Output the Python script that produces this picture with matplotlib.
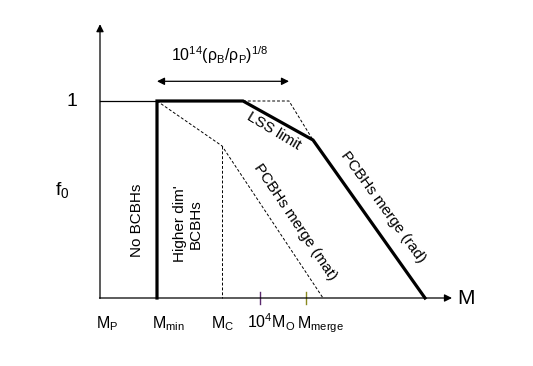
import matplotlib
matplotlib.use('Agg')
import matplotlib.pyplot as plt

plt.rcParams['font.family'] = ['Liberation Sans', 'DejaVu Sans']
plt.rcParams['mathtext.fontset'] = 'custom'
plt.rcParams['mathtext.rm'] = 'Liberation Sans'
plt.rcParams['mathtext.it'] = 'Liberation Sans'
plt.rcParams['mathtext.default'] = 'regular'

# schematic data (x: mass position, f: fraction f0)
tick_x = [107, 168, 223, 271, 320]
tick_labels = ['M$_P$', 'M$_{min}$', 'M$_C$', '10$^4$M$_O$', 'M$_{merge}$']

thick_x = [157, 157, 243, 313, 425]
thick_f = [0.0, 1.0, 1.0, 0.802, 0.0]
thin_x = [100, 157]
thin_f = [1.0, 1.0]
lss_dash_x = [243, 289, 313]
lss_dash_f = [1.0, 1.0, 0.802]
mat_dash_x = [157, 222, 323]
mat_dash_f = [1.0, 0.772, 0.0]
mc_x = [222, 222]
mc_f = [0.772, 0.0]
mark_x = [260, 306]
mark_colors = ['#5b2a6e', '#8a8a20']

fig = plt.figure(figsize=(5.33, 3.66), dpi=100)
ax = fig.add_axes([0, 0, 1, 1])
ax.set_xlim(0, 533)
ax.set_ylim(-68 / 197, 298 / 197)
ax.axis('off')

# axes arrows
ax.annotate('', xy=(452, 0), xytext=(99.5, 0),
            arrowprops=dict(arrowstyle='-|>', color='black', lw=0.9,
                            mutation_scale=11, shrinkA=0, shrinkB=0))
ax.annotate('', xy=(100, 1.39), xytext=(100, -0.002),
            arrowprops=dict(arrowstyle='-|>', color='black', lw=0.9,
                            mutation_scale=11, shrinkA=0, shrinkB=0))

ax.plot(thin_x, thin_f, color='black', lw=0.9)
ax.plot(thick_x, thick_f, color='black', lw=2.3, solid_joinstyle='miter')
ax.plot(lss_dash_x, lss_dash_f, color='black', lw=0.7, ls=(0, (3, 2)))
ax.plot(mat_dash_x, mat_dash_f, color='black', lw=0.7, ls=(0, (3, 2)))
ax.plot(mc_x, mc_f, color='black', lw=0.7, ls=(0, (3, 2)))
for x, c in zip(mark_x, mark_colors):
    ax.plot([x, x], [-0.03, 0.03], color=c, lw=1.0)

for x, lab in zip(tick_x, tick_labels):
    ax.text(x, -30 / 197, lab, ha='center', va='baseline', fontsize=11.5)

# double arrow on top
ax.annotate('', xy=(289, 1.10), xytext=(157, 1.10),
            arrowprops=dict(arrowstyle='<|-|>', color='black', lw=0.9,
                            mutation_scale=11, shrinkA=0, shrinkB=0))
ax.text(220, 1.233, '10$^{14}$(ρ$_B$/ρ$_P$)$^{1/8}$', ha='center', va='center',
        fontsize=11.5)

ax.text(72, 1.0, '1', ha='center', va='center', fontsize=14)
ax.text(62, 0.55, 'f$_0$', ha='center', va='center', fontsize=14)
ax.text(466, 0.0, 'M', ha='center', va='center', fontsize=15)

ax.text(137, (298 - 220) / 197, 'No BCBHs', rotation=90, ha='center',
        va='center', fontsize=11)
ax.text(188, (298 - 224) / 197, "Higher dim'\nBCBHs", rotation=90,
        ha='center', va='center', fontsize=11, linespacing=1.1)
ax.text(274, (298 - 131) / 197, 'LSS limit', rotation=-31, ha='center',
        va='center', fontsize=11, rotation_mode='anchor')
ax.text(295, (298 - 222) / 197, 'PCBHs merge (mat)', rotation=-56,
        ha='center', va='center', fontsize=11, rotation_mode='anchor')
ax.text(383, (298 - 207) / 197, 'PCBHs merge (rad)', rotation=-54,
        ha='center', va='center', fontsize=11, rotation_mode='anchor')

fig.savefig('out.png', dpi=100)
